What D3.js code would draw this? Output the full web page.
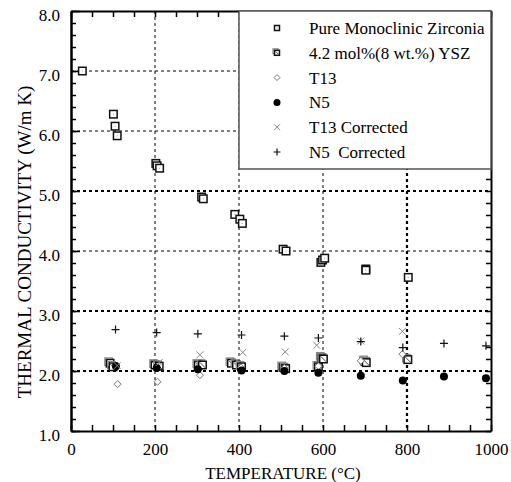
<!DOCTYPE html>
<html>
<head>
<meta charset="utf-8">
<script src="https://cdn.jsdelivr.net/npm/d3@7"></script>
<style>
  body { margin: 0; background: #fff; }
  svg text { font-family: "Liberation Serif", "Times New Roman", serif !important; white-space: pre; }
</style>
</head>
<body>
<svg id="chart" width="511" height="482"></svg>
<script>
// data: temperature (°C), conductivity (W/m K)
const pureMono = [
  [27, 7.0], [101, 6.28], [105, 6.08], [110, 5.92],
  [202, 5.46], [205, 5.42], [211, 5.38],
  [311, 4.90], [315, 4.87],
  [390, 4.61], [402, 4.53], [408, 4.46],
  [505, 4.03], [512, 4.00],
  [595, 3.81], [599, 3.85], [604, 3.88],
  [702, 3.70], [702, 3.68],
  [803, 3.56]
];
const ysz = [
  [93, 2.13], [100, 2.07], [200, 2.10], [210, 2.08],
  [303, 2.10], [313, 2.10], [382, 2.13], [394, 2.10], [406, 2.07],
  [505, 2.06], [511, 2.04], [589, 2.07], [597, 2.22], [601, 2.20],
  [700, 2.16], [703, 2.14], [802, 2.19]
];
const t13 = [
  [111, 1.78], [206, 1.82], [307, 1.93], [405, 2.06], [508, 2.05],
  [589, 2.08], [690, 2.17], [789, 2.28]
];
const n5 = [
  [107, 2.08], [204, 2.05], [302, 2.03], [406, 2.01], [508, 2.00],
  [589, 1.97], [690, 1.92], [790, 1.84], [888, 1.91], [988, 1.88]
];
const t13Corr = [
  [110, 2.09], [210, 2.14], [307, 2.27], [409, 2.31], [510, 2.32],
  [585, 2.43], [690, 2.50], [789, 2.66]
];
const n5Corr = [
  [106, 2.69], [204, 2.64], [302, 2.62], [406, 2.60], [508, 2.58],
  [589, 2.55], [690, 2.49], [790, 2.39], [888, 2.46], [988, 2.42]
];
const legendLabels = [
  "Pure Monoclinic Zirconia", "4.2 mol%(8 wt.%) YSZ", "T13", "N5",
  "T13 Corrected", "N5  Corrected"
];
const xTicks = [0, 200, 400, 600, 800, 1000];
const yTicks = [1, 2, 3, 4, 5, 6, 7, 8];

const margin = { top: 11, left: 71, right: 20, bottom: 51 };
const width = 491 - margin.left, height = 431 - margin.top;

const svg = d3.select("#chart");
const g = svg.append("g").attr("transform", `translate(${margin.left},${margin.top})`);

const x = d3.scaleLinear().domain([0, 1000]).range([0, width]);
const y = d3.scaleLinear().domain([1, 8]).range([height, 0]);

// dashed grid, some lines heavier like the scan
const heavyY = [2, 3, 5];
g.selectAll(".gy").data([2, 3, 4, 5, 6, 7]).enter().append("line")
  .attr("x1", 0).attr("x2", width)
  .attr("y1", d => y(d)).attr("y2", d => y(d))
  .attr("stroke", "#000")
  .attr("stroke-width", d => heavyY.includes(d) ? 2.2 : 1)
  .attr("stroke-dasharray", "3,3");
g.selectAll(".gx").data([200, 400, 600, 800]).enter().append("line")
  .attr("y1", 0).attr("y2", height)
  .attr("x1", d => x(d)).attr("x2", d => x(d))
  .attr("stroke", "#000")
  .attr("stroke-width", d => d === 800 ? 2.2 : 1)
  .attr("stroke-dasharray", "3,3");

// axes with inward ticks on all four sides
function styleAxis(sel) {
  sel.select(".domain").attr("stroke", "#000").attr("stroke-width", 2);
  sel.selectAll(".tick line").attr("stroke", "#000").attr("stroke-width", 1.5);
  sel.selectAll("text").attr("font-size", 17).attr("fill", "#000");
}
const xMinor = d3.range(0, 1001, 50);
const yMinor = d3.range(1, 8.01, 0.2);

g.append("g").attr("transform", `translate(0,${height})`)
  .call(d3.axisBottom(x).tickValues(xMinor).tickSize(-6).tickSizeOuter(0).tickFormat(""))
  .call(styleAxis);
g.append("g").attr("transform", `translate(0,${height})`)
  .call(d3.axisBottom(x).tickValues(xTicks).tickSize(0).tickPadding(12).tickFormat(d3.format("d")))
  .call(styleAxis).call(s => s.select(".domain").remove());
g.append("g")
  .call(d3.axisTop(x).tickValues(xMinor).tickSize(-6).tickSizeOuter(0).tickFormat(""))
  .call(styleAxis);

g.append("g")
  .call(d3.axisLeft(y).tickValues(yMinor).tickSize(-5).tickSizeOuter(0).tickFormat(""))
  .call(styleAxis);
g.append("g")
  .call(d3.axisLeft(y).tickValues(yTicks).tickSize(-9).tickSizeOuter(0).tickPadding(11).tickFormat(d3.format(".1f")))
  .call(styleAxis)
  .call(s => s.selectAll("text").attr("dy", "0.55em"));
g.append("g").attr("transform", `translate(${width},0)`)
  .call(d3.axisRight(y).tickValues(yMinor).tickSize(-5).tickSizeOuter(0).tickFormat(""))
  .call(styleAxis);

// axis titles
svg.append("text")
  .attr("x", 283).attr("y", 479)
  .attr("text-anchor", "middle").attr("font-size", 17)
  .text("TEMPERATURE (°C)");
svg.append("text")
  .attr("transform", "translate(31,242) rotate(-90)")
  .attr("text-anchor", "middle").attr("font-size", 19)
  .text("THERMAL CONDUCTIVITY (W/m K)");

// marker drawers
const marks = {
  square(sel, s) {
    sel.append("rect").attr("x", -s / 2).attr("y", -s / 2).attr("width", s).attr("height", s)
      .attr("fill", "#fff").attr("stroke", "#111").attr("stroke-width", 1.5);
    sel.append("rect").attr("x", -0.5).attr("y", -0.5).attr("width", 1).attr("height", 1).attr("fill", "#999");
  },
  hatched(sel, s) {
    sel.append("rect").attr("x", -s / 2 - 1.5).attr("y", -s / 2 - 1.5).attr("width", s).attr("height", s)
      .attr("fill", "none").attr("stroke", "#888").attr("stroke-width", 1.2);
    sel.append("rect").attr("x", -s / 2).attr("y", -s / 2).attr("width", s).attr("height", s)
      .attr("fill", "#fff").attr("stroke", "#111").attr("stroke-width", 1.5);
    sel.append("line").attr("x1", -s / 2 + 1).attr("y1", -s / 2 + 1).attr("x2", s / 2 - 1).attr("y2", s / 2 - 1)
      .attr("stroke", "#444").attr("stroke-width", 1);
  },
  diamond(sel, s) {
    sel.append("path").attr("d", `M0,${-s / 2}L${s / 2},0L0,${s / 2}L${-s / 2},0Z`)
      .attr("fill", "#fff").attr("stroke", "#777").attr("stroke-width", 1);
  },
  circle(sel, s) {
    sel.append("circle").attr("r", s / 2).attr("fill", "#000");
  },
  cross(sel, s) {
    sel.append("path").attr("d", `M${-s / 2},${-s / 2}L${s / 2},${s / 2}M${-s / 2},${s / 2}L${s / 2},${-s / 2}`)
      .attr("stroke", "#888").attr("stroke-width", 1);
  },
  plus(sel, s) {
    sel.append("path").attr("d", `M${-s / 2},0L${s / 2},0M0,${-s / 2}L0,${s / 2}`)
      .attr("stroke", "#111").attr("stroke-width", 1.2);
  }
};

const series = [
  { data: pureMono, mark: "square", size: 7.5 },
  { data: ysz, mark: "hatched", size: 7.5 },
  { data: t13, mark: "diamond", size: 7 },
  { data: n5, mark: "circle", size: 8 },
  { data: t13Corr, mark: "cross", size: 7 },
  { data: n5Corr, mark: "plus", size: 8 }
];

// legend box (covers grid in the upper right)
const lgX = x(400), lgY = 0;
g.append("rect").attr("x", lgX).attr("y", lgY).attr("width", width - lgX).attr("height", 158)
  .attr("fill", "#fff").attr("stroke", "#555").attr("stroke-width", 1.5);
legendLabels.forEach((lab, i) => {
  const cy = 17 + i * 24.8;
  const m = g.append("g").attr("transform", `translate(${lgX + 38},${cy})`);
  marks[series[i].mark](m, i < 2 ? 5 : series[i].size - 1);
  g.append("text").attr("x", lgX + 70).attr("y", cy + 6).attr("font-size", 17).text(lab);
});

// draw points
series.forEach(sr => {
  sr.data.forEach(d => {
    const m = g.append("g").attr("transform", `translate(${x(d[0])},${y(d[1])})`);
    marks[sr.mark](m, sr.size);
  });
});
</script>
</body>
</html>
